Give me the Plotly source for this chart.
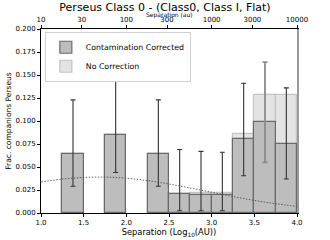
import plotly.graph_objects as go

# Data (log10 separation bins, width 0.25)
bin_centers = [1.375, 1.875, 2.375, 2.625, 2.875, 3.125, 3.375, 3.625, 3.875]
bin_width = 0.25
frac_corrected = [0.064, 0.085, 0.064, 0.021, 0.020, 0.020, 0.080, 0.099, 0.075]
frac_nocorr = [0.064, 0.085, 0.064, 0.021, 0.022, 0.022, 0.086, 0.128, 0.128]
err_upper = [0.123, 0.148, 0.123, 0.069, 0.067, 0.066, 0.141, 0.164, 0.136]
err_lower = [0.029, 0.044, 0.029, 0.0025, 0.0025, 0.0025, 0.0405, 0.055, 0.037]
gray_err_index = 7

model_x = [1.0, 1.25, 1.5, 1.75, 2.0, 2.25, 2.5, 2.75, 3.0, 3.25, 3.5, 3.75, 4.0]
model_y = [0.0337, 0.0368, 0.0386, 0.0390, 0.0378, 0.0352, 0.0315, 0.0271,
           0.0225, 0.0179, 0.0137, 0.0101, 0.0072]

x_ticks = [1.0, 1.5, 2.0, 2.5, 3.0, 3.5, 4.0]
y_ticks = [0.0, 0.025, 0.05, 0.075, 0.1, 0.125, 0.15, 0.175, 0.2]
top_ticks = [10, 30, 100, 300, 1000, 3000, 10000]
top_labels = ["10", "30", "100", "300", "1000", "3000", "10000"]

font = "DejaVu Sans"

fig = go.Figure()

fig.add_trace(go.Bar(
    x=bin_centers, y=frac_nocorr, width=[bin_width] * len(bin_centers),
    name="No Correction",
    marker=dict(color="#e3e3e3", line=dict(color="#c4c4c4", width=1.2)),
))
fig.add_trace(go.Bar(
    x=bin_centers, y=frac_corrected, width=[bin_width] * len(bin_centers),
    name="Contamination Corrected",
    marker=dict(color="#bdbdbd", line=dict(color="#6a6a6a", width=1.2)),
))

def err_trace(indices, color, thick):
    xs = [bin_centers[i] for i in indices]
    ys = [frac_corrected[i] for i in indices]
    up = [err_upper[i] - frac_corrected[i] for i in indices]
    dn = [frac_corrected[i] - err_lower[i] for i in indices]
    return go.Scatter(
        x=xs, y=ys, mode="markers", marker=dict(size=1, color="rgba(0,0,0,0)"),
        error_y=dict(type="data", array=up, arrayminus=dn, color=color,
                     thickness=thick, width=2.5),
        showlegend=False, hoverinfo="skip",
    )

dark_idx = [i for i in range(len(bin_centers)) if i != gray_err_index]
fig.add_trace(err_trace(dark_idx, "#333333", 1.1))
fig.add_trace(err_trace([gray_err_index], "#8c8c8c", 1.8))

fig.add_trace(go.Scatter(
    x=model_x, y=model_y, mode="lines",
    line=dict(color="#444444", width=0.8, dash="1.5px,1.5px", shape="spline"),
    showlegend=False, hoverinfo="skip",
))

# dummy trace to create top (log au) axis and right spine axis
fig.add_trace(go.Scatter(x=[top_ticks[0], top_ticks[-1]], y=[None, None],
                         xaxis="x2", yaxis="y2", mode="none",
                         showlegend=False, hoverinfo="skip"))

fig.update_layout(
    width=330, height=240,
    margin=dict(l=41, r=33, t=29, b=27, autoexpand=False),
    paper_bgcolor="white", plot_bgcolor="white",
    barmode="overlay", bargap=0,
    font=dict(family=font, size=7, color="black"),
    title=dict(text="Perseus Class 0 - (Class0, Class I, Flat)",
               x=0.5, xanchor="center", y=0.972, yanchor="middle",
               pad=dict(t=0, b=0),
               font=dict(size=11, family=font, color="black")),
    xaxis=dict(range=[1, 4], tickvals=x_ticks,
               ticktext=[f"{v:.1f}" for v in x_ticks],
               showline=True, linecolor="black", linewidth=1,
               ticks="outside", ticklen=3, tickcolor="black",
               showgrid=False, zeroline=False, automargin=False,
               tickfont=dict(size=7, color="black"),
               title=dict(text="Separation (Log<sub>10</sub>(AU))",
                          font=dict(size=8.3, color="black"), standoff=1)),
    xaxis2=dict(type="log", range=[1, 4], overlaying="x", side="top",
                anchor="y", tickvals=top_ticks, ticktext=top_labels,
                showline=True, linecolor="black", linewidth=1,
                ticks="outside", ticklen=3, tickcolor="black",
                showgrid=False, zeroline=False, automargin=False,
                tickfont=dict(size=7, color="#000000")),
    yaxis=dict(range=[0, 0.2], tickvals=y_ticks, tickformat=".3f",
               showline=True, linecolor="black", linewidth=1,
               ticks="outside", ticklen=3, tickcolor="black",
               showgrid=False, zeroline=False, automargin=False,
               tickfont=dict(size=7, color="black"),
               title=dict(text="Frac. companions Perseus",
                          font=dict(size=7.5, color="black"), standoff=2)),
    yaxis2=dict(range=[0, 0.2], overlaying="y", side="right", anchor="x",
                showline=True, linecolor="#999999", linewidth=2,
                showticklabels=False, ticks="", showgrid=False,
                zeroline=False, automargin=False),
    legend=dict(x=0.015, y=0.985, xanchor="left", yanchor="top",
                bgcolor="white", bordercolor="#d0d0d0", borderwidth=1,
                font=dict(size=7.8, color="black"), traceorder="reversed",
                itemwidth=30, tracegroupgap=0),
    annotations=[dict(text="Separation (au)", xref="paper", yref="paper",
                      x=0.5, y=1, xanchor="center", yanchor="bottom",
                      yshift=9.5, showarrow=False, borderpad=0,
                      font=dict(size=6, color="#000000", family=font))],
)

fig.write_html("out.html", config={"displayModeBar": False},
               post_script="document.body.style.margin='0px';")
